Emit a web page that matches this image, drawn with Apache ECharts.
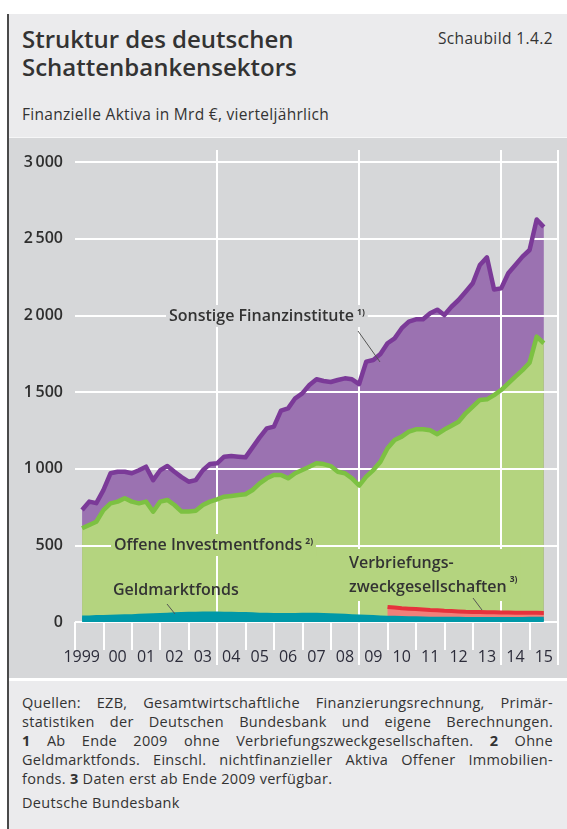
<!DOCTYPE html>
<html><head><meta charset="utf-8">
<script src="https://cdn.jsdelivr.net/npm/echarts@6/dist/echarts.min.js"></script>
<style>
html,body{margin:0;padding:0;background:#fff;}
body{width:567px;height:829px;position:relative;overflow:hidden;font-family:'Open Sans',sans-serif;color:#333;}
#frame{position:absolute;left:7px;top:14px;width:560px;height:815px;background:#ebebed;border-left:2px solid #4a4a4a;box-sizing:border-box;}
#title{position:absolute;left:22px;top:25px;font-size:24px;font-weight:600;line-height:27.5px;color:#333;white-space:nowrap;}
#fig{position:absolute;right:14px;top:27px;font-size:15.5px;letter-spacing:0.4px;color:#333;}
#sub{position:absolute;left:22px;top:103px;font-size:15.5px;letter-spacing:0.3px;color:#333;white-space:nowrap;}
#sep{position:absolute;left:9px;top:137px;width:558px;height:1px;background:#f6f6f7;}
#chart{position:absolute;left:9px;top:138px;width:558px;height:540px;background:#d6d7d9;}
#sep2{position:absolute;left:9px;top:678px;width:558px;height:3px;background:#fff;}
#foot{position:absolute;left:22px;top:693px;width:531px;font-size:14.5px;letter-spacing:0.3px;line-height:19px;color:#333;}
#foot div{white-space:nowrap;text-align:justify;text-align-last:justify;}
#foot div.last{text-align:left;text-align-last:left;}
#src{position:absolute;left:22px;top:793px;font-size:14.5px;letter-spacing:0.3px;color:#333;}
</style></head>
<body>
<div id="frame"></div>
<div id="title">Struktur des deutschen<br>Schattenbankensektors</div>
<div id="fig">Schaubild 1.4.2</div>
<div id="sub">Finanzielle Aktiva in Mrd €, vierteljährlich</div>
<div id="sep"></div>
<div id="chart"></div>
<div id="sep2"></div>
<div id="foot">
<div>Quellen: EZB, Gesamtwirtschaftliche Finanzierungsrechnung, Primär-</div>
<div>statistiken der Deutschen Bundesbank und eigene Berechnungen.</div>
<div><b>1</b> Ab Ende 2009 ohne Verbriefungszweckgesellschaften. <b>2</b> Ohne</div>
<div>Geldmarktfonds. Einschl. nichtfinanzieller Aktiva Offener Immobilien-</div>
<div class="last">fonds. <b>3</b> Daten erst ab Ende 2009 verfügbar.</div>
</div>
<div id="src">Deutsche Bundesbank</div>
<script>
// ---- data (Mrd €, quarterly, 1999 Q1 – 2015 Q2) ----
const yearLabels = ['1999','00','01','02','03','04','05','06','07','08','09','10','11','12','13','14','15'];
const firstYear = 1999;
const yTickLabels = ['0','500','1\u2009000','1\u2009500','2\u2009000','2\u2009500','3\u2009000'];

// upper edge of "Sonstige Finanzinstitute" band
const sonstigeFinanzinstitute = [
  730, 785, 775, 860,
  970, 980, 980, 970,
  990, 1013, 925, 990,
  1017, 980, 945, 915,
  925, 990, 1030, 1035,
  1078, 1083, 1078, 1074,
  1139, 1204, 1263, 1274,
  1378, 1393, 1459, 1491,
  1546, 1583, 1572, 1565,
  1578, 1589, 1583, 1552,
  1698, 1709, 1748, 1818,
  1850, 1916, 1959, 1974,
  1974, 2013, 2037, 2002,
  2056, 2100, 2154, 2209,
  2328, 2378, 2168, 2176,
  2274, 2328, 2383, 2426,
  2625, 2576
];
// upper edge of "Offene Investmentfonds" band
const offeneInvestmentfonds = [
  611, 633, 654, 730,
  774, 785, 807, 785,
  774, 785, 720, 785,
  796, 763, 720, 720,
  726, 763, 785, 800,
  817, 822, 828, 833,
  861, 904, 937, 959,
  959, 937, 970, 991,
  1013, 1035, 1030, 1017,
  980, 970, 937, 890,
  948, 991, 1045, 1133,
  1187, 1209, 1241, 1257,
  1257, 1250, 1225, 1255,
  1280, 1306, 1361, 1404,
  1448, 1452, 1480, 1513,
  1557, 1600, 1643, 1691,
  1861, 1818
];
const geldmarktfonds = [
  30, 30, 32, 33,
  35, 36, 37, 38,
  40, 42, 44, 46,
  48, 50, 52, 53,
  54, 55, 55, 55,
  54, 53, 52, 52,
  50, 48, 47, 46,
  45, 45, 46, 47,
  48, 47, 46, 44,
  42, 40, 38, 36,
  34, 32, 30, 28,
  27, 26, 25, 24,
  23, 22, 22, 21,
  21, 21, 20, 20,
  20, 20, 20, 20,
  20, 20, 20, 21,
  21, 21
];
// Verbriefungszweckgesellschaften: data available from 2009 Q4
const verbriefungStartYear = 2009, verbriefungStartQuarter = 4;
const verbriefungszweckgesellschaften = [
  70, 67, 64, 62, 60, 58, 56, 54, 52, 50, 48, 47, 46, 45, 44, 43, 42, 42, 41, 40, 40, 39, 38
];

// ---- quarter slots: slot 0 = start of 1999, slot k = end of k-th quarter ----
const nSlots = yearLabels.length * 4 + 1;
const quarterSlots = [];
for (let k = 0; k < nSlots; k++) quarterSlots.push(String(k));
const toSlots = arr => [null].concat(arr);
const vbOffset = (verbriefungStartYear - firstYear) * 4 + verbriefungStartQuarter;
const vbSlots = new Array(vbOffset).fill(null).concat(verbriefungszweckgesellschaften);

const bigTick = (i) => i === 5 || i === 10 || i === 15;
const catData = yearLabels.map((y, i) => i === 0 ? { value: y, textStyle: { padding: [0, 15, 0, 0] } } : y);

const chart = echarts.init(document.getElementById('chart'), null, { renderer: 'canvas' });
const purple = '#9b72b1', purpleLine = '#7b3a98';
const green = '#b4d47f', greenLine = '#7cc142';
const teal = '#0098a8', red = '#e6323c', redFill = '#f0807a';
const panel = '#d6d7d9';
const labelFont = { fontFamily: 'Open Sans', fontSize: 16, fontWeight: 600, fill: '#333' };
const supStyle = { fontFamily: 'Open Sans', fontSize: 8.5, fontWeight: 700, fill: '#333', verticalAlign: 'top', padding: [0, 0, 0, 3] };

chart.setOption({
  animation: false,
  grid: { left: 66, right: 9, top: 24, bottom: 56, show: false },
  xAxis: [
    { type: 'category', data: catData, position: 'bottom', offset: 15, boundaryGap: true, z: 3,
      axisLine: { show: false },
      axisTick: { show: true, interval: 0, length: 28, lineStyle: { color: '#fff', width: 2 } },
      axisLabel: { interval: 0, margin: 12, fontFamily: 'Open Sans', fontSize: 16, color: '#2c2c3a' },
      splitLine: { show: false } },
    { type: 'category', data: yearLabels, position: 'bottom', boundaryGap: true, z: 3,
      axisLine: { show: false },
      axisTick: { show: true, interval: (i) => bigTick(i), length: 43, lineStyle: { color: '#fff', width: 2 } },
      axisLabel: { show: false },
      splitLine: { show: true, interval: (i) => bigTick(i), lineStyle: { color: '#fff', width: 2 } } },
    { type: 'category', data: yearLabels, position: 'top', boundaryGap: true, z: 3,
      axisLine: { show: false },
      axisTick: { show: true, interval: (i) => bigTick(i), length: 12, lineStyle: { color: '#fff', width: 2 } },
      axisLabel: { show: false }, splitLine: { show: false } },
    { type: 'category', data: quarterSlots, boundaryGap: false, show: false }
  ],
  yAxis: { type: 'value', min: 0, max: 3000, interval: 500, z: 3,
    axisLine: { show: false }, axisTick: { show: false },
    axisLabel: { margin: 12, fontFamily: 'Open Sans', fontSize: 16, fontWeight: 600, color: '#2e2e2e',
      formatter: (v) => yTickLabels[Math.round(v / 500)] },
    splitLine: { show: true, lineStyle: { color: '#fff', width: 2 } } },
  series: [
    { name: 'Sonstige Finanzinstitute', type: 'line', xAxisIndex: 3, data: toSlots(sonstigeFinanzinstitute), showSymbol: false, silent: true,
      lineStyle: { width: 0 }, areaStyle: { color: purple, opacity: 1 }, z: 1 },
    { name: 'Offene Investmentfonds', type: 'line', xAxisIndex: 3, data: toSlots(offeneInvestmentfonds), showSymbol: false, silent: true,
      lineStyle: { width: 0 }, areaStyle: { color: green, opacity: 1 }, z: 2 },
    { name: 'Geldmarktfonds', type: 'line', xAxisIndex: 3, stack: 'unten', data: toSlots(geldmarktfonds), showSymbol: false, silent: true,
      lineStyle: { width: 4, color: teal }, areaStyle: { color: teal, opacity: 1 }, z: 4 },
    { name: 'Verbriefungszweckgesellschaften', type: 'line', xAxisIndex: 3, stack: 'unten', data: vbSlots, showSymbol: false, silent: true,
      lineStyle: { width: 4, color: red }, areaStyle: { color: redFill, opacity: 1 }, z: 4 },
    { name: 'Sonstige Linie', type: 'line', xAxisIndex: 3, data: toSlots(sonstigeFinanzinstitute), showSymbol: false, silent: true,
      lineStyle: { width: 4.5, color: purpleLine, join: 'round' }, z: 5 },
    { name: 'Investment Linie', type: 'line', xAxisIndex: 3, data: toSlots(offeneInvestmentfonds), showSymbol: false, silent: true,
      lineStyle: { width: 4.5, color: greenLine, join: 'round' }, z: 5 }
  ],
  graphic: [
    { type: 'text', x: 157, y: 178, z: 100, style: Object.assign({ text: '{a|Sonstige Finanzinstitute}{s|1)}', verticalAlign: 'middle',
        backgroundColor: panel, padding: [3, 3, 3, 3],
        rich: { a: Object.assign({}, labelFont), s: supStyle } }, labelFont) },
    { type: 'line', z: 100, shape: { x1: 349, y1: 193, x2: 371, y2: 224 }, style: { stroke: '#555', lineWidth: 1 } },
    { type: 'text', x: 102, y: 407, z: 100, style: Object.assign({ text: '{a|Offene Investmentfonds}{s|2)}', verticalAlign: 'middle',
        backgroundColor: green, padding: [3, 3, 3, 3],
        rich: { a: Object.assign({}, labelFont), s: supStyle } }, labelFont) },
    { type: 'text', x: 104, y: 452, z: 100, style: Object.assign({ text: 'Geldmarktfonds', verticalAlign: 'middle' }, labelFont) },
    { type: 'line', z: 100, shape: { x1: 158, y1: 466, x2: 166, y2: 476 }, style: { stroke: '#555', lineWidth: 1 } },
    { type: 'text', x: 337, y: 437, z: 100, style: Object.assign({ text: '{a|Verbriefungs-}\n{a|zweckgesellschaften}{s|3)}', verticalAlign: 'middle',
        backgroundColor: green, padding: [2, 3, 2, 3], lineHeight: 24,
        rich: { a: Object.assign({ lineHeight: 24 }, labelFont), s: supStyle } }, labelFont) },
    { type: 'line', z: 100, shape: { x1: 464, y1: 460, x2: 473, y2: 472 }, style: { stroke: '#555', lineWidth: 1 } }
  ]
});
</script>
</body></html>
